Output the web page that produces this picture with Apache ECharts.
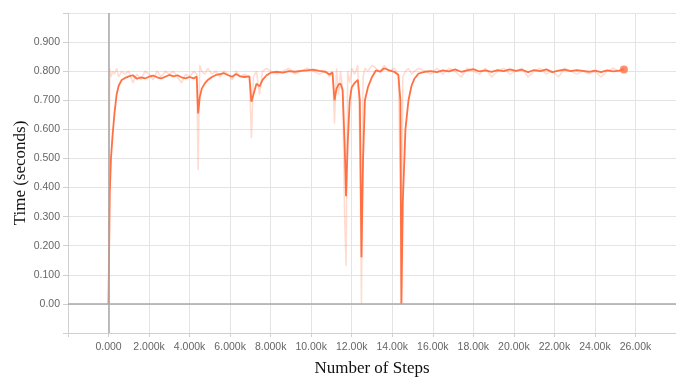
<!DOCTYPE html>
<html>
<head>
<meta charset="utf-8">
<script src="https://cdn.jsdelivr.net/npm/echarts@6/dist/echarts.min.js"></script>
<style>
  html, body { margin: 0; padding: 0; background: #fff; }
  #chart { width: 676px; height: 378px; }
</style>
</head>
<body>
<div id="chart"></div>
<script>
// training steps (x) with smoothed and raw step time (seconds)
const steps = [
  0, 60, 120, 200, 300, 400, 500, 650, 800, 1000, 1200, 1400, 1600, 1800, 2000,
  2200, 2400, 2600, 2800, 3000, 3200, 3400, 3600, 3800, 4000, 4200, 4350, 4420,
  4500, 4600, 4750, 4900, 5100, 5300, 5500, 5700, 5900, 6100, 6300, 6500, 6700,
  6950, 7050, 7150, 7300, 7450, 7600, 7800, 8000, 8300, 8600, 8900, 9200, 9500,
  9800, 10100, 10400, 10700, 10900, 11050, 11150, 11250, 11350, 11450, 11550,
  11650, 11720, 11800, 11900, 12000, 12150, 12300, 12400, 12480, 12560, 12650,
  12800, 13000, 13200, 13400, 13600, 13850, 14100, 14300, 14400, 14450, 14520,
  14650, 14800, 14950, 15100, 15300, 15600, 15900, 16200, 16500, 16800, 17100,
  17400, 17700, 18000, 18300, 18600, 18900, 19200, 19500, 19800, 20100, 20400,
  20700, 21000, 21300, 21600, 21900, 22200, 22500, 22800, 23100, 23400, 23700,
  24000, 24300, 24600, 24900, 25200, 25430
];
const smoothed = [
  0.00, 0.38, 0.50, 0.58, 0.66, 0.72, 0.75, 0.77, 0.776, 0.782, 0.786, 0.774, 0.779, 0.775, 0.781,
  0.785, 0.779, 0.775, 0.781, 0.787, 0.782, 0.786, 0.779, 0.775, 0.780, 0.775, 0.782, 0.655,
  0.71, 0.74, 0.758, 0.770, 0.780, 0.787, 0.790, 0.793, 0.786, 0.781, 0.790, 0.782, 0.780,
  0.782, 0.695, 0.72, 0.757, 0.748, 0.770, 0.786, 0.795, 0.798, 0.795, 0.800, 0.798, 0.801,
  0.803, 0.805, 0.801, 0.798, 0.789, 0.795, 0.700, 0.740, 0.755, 0.757, 0.735,
  0.55, 0.37, 0.55, 0.70, 0.745, 0.760, 0.770, 0.700, 0.16, 0.50, 0.70,
  0.745, 0.780, 0.803, 0.798, 0.810, 0.803, 0.798, 0.787, 0.700, 0.00, 0.35,
  0.60, 0.70, 0.750, 0.775, 0.792, 0.798, 0.800, 0.797, 0.803, 0.799, 0.806,
  0.798, 0.803, 0.807, 0.799, 0.803, 0.798, 0.804, 0.800, 0.806, 0.801, 0.805,
  0.797, 0.804, 0.800, 0.806, 0.797, 0.802, 0.805, 0.800, 0.804, 0.801, 0.798,
  0.802, 0.797, 0.803, 0.799, 0.802, 0.806
];
const raw = [
  0.00, 0.81, 0.78, 0.80, 0.79, 0.81, 0.78, 0.80, 0.79, 0.80, 0.76, 0.79, 0.77, 0.80, 0.79,
  0.77, 0.80, 0.78, 0.80, 0.79, 0.80, 0.78, 0.76, 0.79, 0.78, 0.80, 0.79, 0.46,
  0.82, 0.80, 0.79, 0.81, 0.79, 0.80, 0.78, 0.80, 0.79, 0.77, 0.80, 0.78, 0.79,
  0.78, 0.57, 0.78, 0.80, 0.72, 0.80, 0.81, 0.80, 0.79, 0.80, 0.81, 0.79, 0.80,
  0.81, 0.80, 0.79, 0.80, 0.78, 0.80, 0.62, 0.81, 0.72, 0.80, 0.74,
  0.30, 0.13, 0.80, 0.76, 0.81, 0.79, 0.82, 0.55, 0.00, 0.78, 0.81,
  0.80, 0.82, 0.81, 0.80, 0.82, 0.80, 0.81, 0.79, 0.40, 0.00, 0.78,
  0.80, 0.81, 0.79, 0.80, 0.81, 0.80, 0.79, 0.81, 0.79, 0.81, 0.80,
  0.78, 0.81, 0.80, 0.79, 0.81, 0.78, 0.80, 0.81, 0.79, 0.80, 0.81,
  0.78, 0.80, 0.81, 0.79, 0.80, 0.78, 0.81, 0.80, 0.79, 0.80, 0.79,
  0.80, 0.78, 0.80, 0.81, 0.80, 0.81
];

const chart = echarts.init(document.getElementById('chart'));
const last = steps.length - 1;

function xLabel(v) {
  if (v === 0) return '0.000';
  if (v < 10000) return (v / 1000).toFixed(3) + 'k';
  return (v / 1000).toFixed(2) + 'k';
}

chart.setOption({
  animation: false,
  grid: { left: 68, right: 0, top: 13, bottom: 45, containLabel: false, outerBoundsMode: 'none' },
  xAxis: {
    type: 'value',
    min: -2000,
    max: 28000,
    interval: 2000,
    name: 'Number of Steps',
    nameLocation: 'middle',
    nameGap: 27,
    nameMoveOverlap: false,
    nameTextStyle: { fontFamily: 'Liberation Serif', fontSize: 17, color: '#111' },
    axisLine: { onZero: false, lineStyle: { color: '#d0d0d0' } },
    axisTick: { show: true, length: 4, lineStyle: { color: '#d0d0d0' } },
    splitLine: { show: true, lineStyle: { color: '#e4e4e4' } },
    axisLabel: {
      fontFamily: 'Liberation Sans', fontSize: 10.5, color: '#666', margin: 9,
      formatter: v => (v < 0 || v > 26000) ? '' : xLabel(v)
    }
  },
  yAxis: {
    type: 'value',
    min: -0.1,
    max: 1.0,
    interval: 0.1,
    name: 'Time (seconds)',
    nameLocation: 'middle',
    nameGap: 39,
    nameMoveOverlap: false,
    nameTextStyle: { fontFamily: 'Liberation Serif', fontSize: 17, color: '#111' },
    axisLine: { show: true, onZero: false, lineStyle: { color: '#d0d0d0' } },
    axisTick: { show: true, length: 5, lineStyle: { color: '#d0d0d0' } },
    splitLine: { show: true, lineStyle: { color: '#e4e4e4' } },
    axisLabel: {
      fontFamily: 'Liberation Sans', fontSize: 10.5, color: '#666', margin: 8,
      formatter: v => {
        const r = Math.round(v * 10) / 10;
        if (r < 0 || r > 0.95) return '';
        return r === 0 ? '0.00' : r.toFixed(3);
      }
    }
  },
  series: [
    {
      name: 'raw',
      type: 'line',
      data: steps.map((s, i) => [s, raw[i]]),
      showSymbol: false,
      symbol: 'none',
      lineStyle: { color: 'rgba(255,112,67,0.25)', width: 1.5 },
      z: 1,
      markLine: {
        silent: true,
        symbol: 'none',
        label: { show: false },
        lineStyle: { color: '#a8a8a8', type: 'solid', width: 1.5 },
        data: [{ yAxis: 0 }, { xAxis: 0 }]
      }
    },
    {
      name: 'smoothed',
      type: 'line',
      data: steps.map((s, i) => [s, smoothed[i]]),
      showSymbol: false,
      symbol: 'none',
      lineStyle: { color: '#ff7043', width: 1.8 },
      z: 3
    },
    {
      name: 'last',
      type: 'scatter',
      data: [[steps[last], smoothed[last]]],
      symbolSize: 8,
      itemStyle: { color: '#ff7043' },
      z: 4
    }
  ]
});
</script>
</body>
</html>
